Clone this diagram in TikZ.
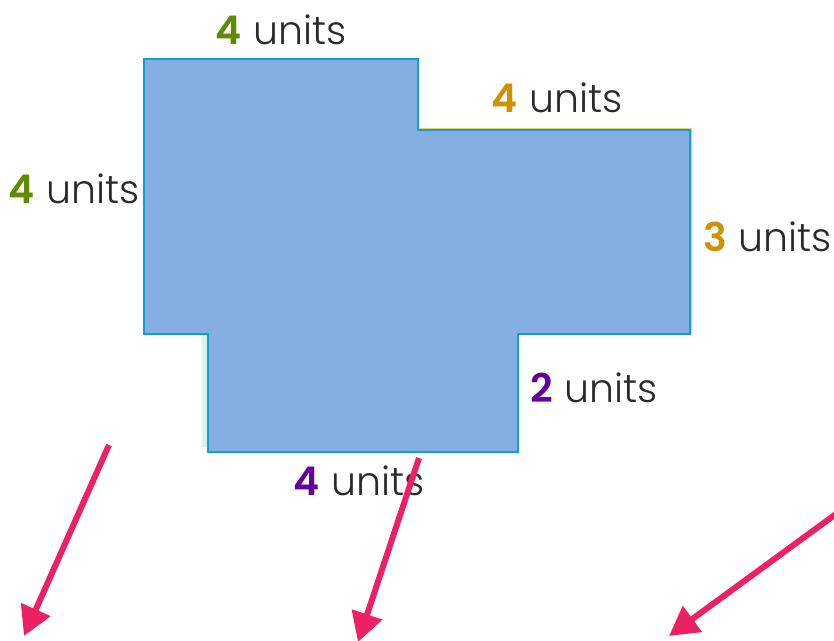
\documentclass[tikz,border=0pt]{standalone}
\usepackage{fontspec}
\setmainfont{Poppins}[UprightFont=* Light,BoldFont=* SemiBold]
\usetikzlibrary{arrows.meta}
\definecolor{fillblue}{HTML}{85AEE1}
\definecolor{edgeblue}{HTML}{0F9ED5}
\definecolor{stripgreen}{HTML}{DFF0E0}
\definecolor{stripyellow}{HTML}{F5CF4F}
\definecolor{lblgreen}{HTML}{5F8A00}
\definecolor{lblgold}{HTML}{CC9200}
\definecolor{lblpurple}{HTML}{660099}
\definecolor{txtdark}{HTML}{2A2A2A}
\definecolor{arrowpink}{HTML}{EC2063}
\tikzset{
  x=1pt,y=-1pt,
  lbl/.style={inner sep=0pt,anchor=base west,text=txtdark,font=\fontsize{39.5}{43}\selectfont},
  pinkarrow/.style={draw=arrowpink,line width=6pt,-{Triangle[length=29pt,width=31pt,color=arrowpink]}},
  shape outline/.style={draw=edgeblue,line width=2pt,fill=fillblue,line join=miter}
}
\newcommand{\dimlabel}[2]{\textcolor{#1}{\textbf{#2}}\hspace{0.3em}units}
\begin{document}
\begin{tikzpicture}
\useasboundingbox (0,0) rectangle (834,640);
\clip (0,0) rectangle (834,640);
\fill[stripgreen] (202,334) rectangle (208,447);
\draw[stripyellow,line width=1.6pt] (418,128.6) -- (691.6,128.6) -- (691.6,334);
\draw[shape outline] (143.5,58.5) -- (418,58.5) -- (418,129.5) -- (690,129.5) -- (690,334) -- (517.5,334) -- (517.5,452) -- (208,452) -- (208,334) -- (143.5,334) -- cycle;
\node[lbl] (top) at (215,44.5) {\dimlabel{lblgreen}{4}};
\node[lbl] (upper) at (491,112.5) {\dimlabel{lblgold}{4}};
\node[lbl] (left) at (8.5,203.5) {\dimlabel{lblgreen}{4}};
\node[lbl] (right) at (703,251.5) {\dimlabel{lblgold}{3}};
\node[lbl] (lower) at (530,402.5) {\dimlabel{lblpurple}{2}};
\node[lbl] (bottom) at (293,495.5) {\dimlabel{lblpurple}{4}};
\coordinate (a1s) at (109,445);
\coordinate (a1e) at (24,636);
\coordinate (a2s) at (419,458);
\coordinate (a2e) at (358,642);
\coordinate (a3s) at (836,514);
\coordinate (a3e) at (669,636);
\draw[pinkarrow] (a1s) -- (a1e);
\draw[pinkarrow] (a2s) -- (a2e);
\draw[pinkarrow] (a3s) -- (a3e);
\end{tikzpicture}
\end{document}
